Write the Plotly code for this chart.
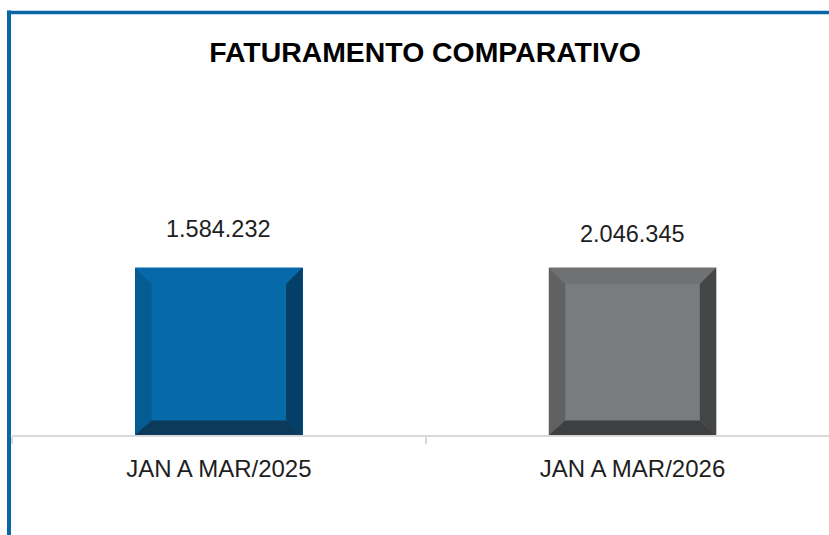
import plotly.graph_objects as go

# ---- data ----
categories = ["JAN A MAR/2025", "JAN A MAR/2026"]
values = [1584232, 2046345]
title_text = "FATURAMENTO COMPARATIVO"

# ---- style ----
face_colors = ["#066AA8", "#7A7B7D"]
left_colors = ["#055C92", "#606163"]
top_colors = ["#0769A9", "#707173"]
right_colors = ["#033F66", "#444547"]
bottom_colors = ["#0B3A5B", "#3E3F41"]
label_shift = [24, 19]
font_fam = "Liberation Sans, Arial, sans-serif"
text_col = "#1E1E1E"

W, H = 829, 535
ml, mr, mt, mb = 12, 0, 100, 100
plot_w = W - ml - mr
plot_h = H - mt - mb
cat_px = 413.7                     # pixel width of one category
x_max = -0.5 + plot_w / cat_px
bar_w = 0.405
bar_frac = 0.5                     # bar top sits at half of each axis
bar_px = plot_h * bar_frac
bev_x_px, bev_top_px, bev_bot_px = 16.5, 16.5, 14.5

fig = go.Figure()
annotations = []
for i, (cat, v) in enumerate(zip(categories, values)):
    yax = "y" if i == 0 else "y2"
    c = i
    h = bar_w / 2
    dx = bev_x_px / cat_px
    dyt = v * bev_top_px / bar_px
    dyb = v * bev_bot_px / bar_px
    fig.add_trace(go.Bar(x=[c], y=[v], width=bar_w, marker=dict(color=face_colors[i], line=dict(width=0)),
                         yaxis=yax, showlegend=False, hoverinfo="skip"))
    polys = [
        ([c - h, c - h, c - h + dx, c - h + dx], [0, v, v - dyt, dyb], left_colors[i]),
        ([c - h, c + h, c + h - dx, c - h + dx], [v, v, v - dyt, v - dyt], top_colors[i]),
        ([c + h, c + h, c + h - dx, c + h - dx], [v, 0, dyb, v - dyt], right_colors[i]),
        ([c - h, c + h, c + h - dx, c - h + dx], [0, 0, dyb, dyb], bottom_colors[i]),
    ]
    for px, py, col in polys:
        fig.add_trace(go.Scatter(x=px + [px[0]], y=py + [py[0]], fill="toself", fillcolor=col,
                                 mode="lines", line=dict(width=0), yaxis=yax,
                                 showlegend=False, hoverinfo="skip"))
    annotations.append(dict(x=c, y=v, xref="x", yref=yax, text=f"{v:,}".replace(",", "."),
                            showarrow=False, yanchor="bottom", xanchor="center", yshift=label_shift[i],
                            font=dict(family=font_fam, size=23.5, color=text_col)))

# frame (blue border of the chart container)
def px_to_paper_x(p):
    return (p - ml) / plot_w

def py_to_paper_y(p):
    return (H - mb - p) / plot_h

frame_col = "#0A67A5"
shapes = [
    dict(type="line", xref="paper", yref="paper",
         x0=px_to_paper_x(9), x1=px_to_paper_x(9),
         y0=py_to_paper_y(10.5), y1=py_to_paper_y(560),
         line=dict(color=frame_col, width=4), layer="above"),
    dict(type="line", xref="paper", yref="paper",
         x0=px_to_paper_x(7), x1=px_to_paper_x(860),
         y0=py_to_paper_y(12.5), y1=py_to_paper_y(12.5),
         line=dict(color=frame_col, width=3.5), layer="above"),
]

fig.update_layout(
    width=W, height=H,
    margin=dict(l=ml, r=mr, t=mt, b=mb, pad=0),
    paper_bgcolor="white", plot_bgcolor="white",
    title=dict(text=f"<b>{title_text}</b>", x=425 / W, xanchor="center", xref="container",
               y=1 - 52 / H, yanchor="middle", yref="container",
               font=dict(family=font_fam, size=28.4, color="#000000")),
    xaxis=dict(range=[-0.5, x_max], tickmode="array", tickvals=list(range(len(categories))),
               ticktext=categories, ticks="", showgrid=False, zeroline=False,
               showline=True, linecolor="#D9D9D9", linewidth=2,
               ticklabelstandoff=11,
               tickfont=dict(family=font_fam, size=24, color=text_col),
               minor=dict(tickmode="array", tickvals=[k - 0.5 for k in range(len(categories) + 1)],
                          ticks="outside", ticklen=7, tickcolor="#D9D9D9", tickwidth=2, showgrid=False),
               fixedrange=True),
    yaxis=dict(range=[0, values[0] / bar_frac], visible=False, fixedrange=True),
    yaxis2=dict(range=[0, values[1] / bar_frac], visible=False, overlaying="y", fixedrange=True),
    bargap=0, barmode="overlay",
    annotations=annotations,
    shapes=shapes,
)

fig.write_html("out.html", config={"displayModeBar": False},
               post_script="document.body.style.margin='0';document.body.style.overflow='hidden';")
